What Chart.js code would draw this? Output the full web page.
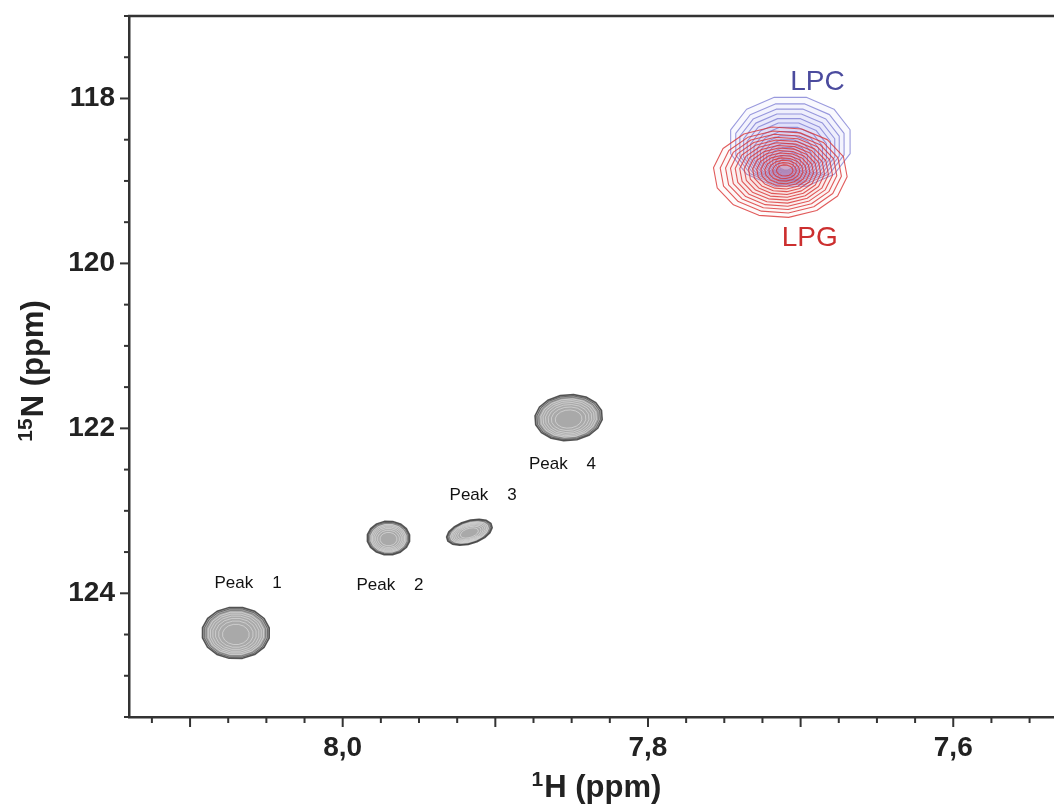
<!DOCTYPE html>
<html>
<head>
<meta charset="utf-8">
<script src="https://cdn.jsdelivr.net/npm/chart.js@4.4.1/dist/chart.umd.min.js"></script>
<style>
  html, body { margin: 0; padding: 0; background: #fff; }
  #wrap { width: 1054px; height: 807px; }
</style>
</head>
<body>
<div id="wrap"><canvas id="nmrChart" width="1054" height="807"></canvas></div>
<script>
var peakNames = ['Peak 1', 'Peak 2', 'Peak 3', 'Peak 4'];
var peakH = [8.070, 7.970, 7.917, 7.852];
var peakN = [124.48, 123.33, 123.26, 121.87];
var peakWidthH = [0.0223, 0.0141, 0.0155, 0.0223];
var peakWidthN = [0.315, 0.206, 0.14, 0.28];

var lipidNames = ['LPC', 'LPG'];
var lipidH = [7.710, 7.710];
var lipidN = [118.84, 118.87];
var lipidWidthH = [0.0405, 0.044];
var lipidWidthN = [0.558, 0.552];
var lipidSkewH = [-0.0033, 0.0033];
var lipidSkewN = [-0.315, 0.024];

// etiquetas de los ejes
var xLabelValues = [8.0, 7.8, 7.6];
var xTickLabels = ['8,0', '7,8', '7,6'];
var yLabelValues = [118, 120, 122, 124];
var yTickLabels = ['118', '120', '122', '124'];
var xTitle = ['1', 'H (ppm)'];
var yTitle = ['15', 'N (ppm)'];

var FONT = "'Liberation Sans', Arial, sans-serif";
var AXIS = '#333333';

function near(a, b) { return Math.abs(a - b) < 1e-6; }

// estilo de dibujo de cada grupo de contornos
var peakStyle = { rings: 9, rot: [0, 0, -0.3, -0.08] };
var lipidStyle = [
    { rings: 15, color: 'rgba(120,120,210,0.75)', fill: 'rgba(160,160,230,0.06)', text: '#4b4b9e', sides: 12, turn: 0.26 },
    { rings: 15, color: 'rgba(218,50,50,0.8)', fill: 'rgba(235,120,120,0.03)', text: '#cc2f2f', sides: 14, turn: 0.1 }
];
var labelAt = {
    peaks: [[8.062, 123.875], [7.969, 123.90], [7.908, 122.81], [7.856, 122.44]],
    lipids: [[7.689, 117.80], [7.694, 119.69]]
};

function polygon(ctx, cx, cy, rx, ry, rot, sides, turn) {
    rx = Math.max(rx, 0.6);
    ry = Math.max(ry, 0.6);
    var c = Math.cos(rot), s = Math.sin(rot);
    ctx.beginPath();
    for (var i = 0; i <= sides; i++) {
        var a = turn + i / sides * Math.PI * 2;
        var px = Math.cos(a) * rx, py = Math.sin(a) * ry;
        var X = cx + px * c - py * s, Y = cy + px * s + py * c;
        if (i === 0) ctx.moveTo(X, Y); else ctx.lineTo(X, Y);
    }
    ctx.closePath();
}

// plugin para dibujar los contornos de los picos
var contourPlugin = {
    id: 'contours',
    afterDatasetsDraw: function(chart) {
        var ctx = chart.ctx;
        var xs = chart.scales.x, ys = chart.scales.y;
        var area = chart.chartArea;
        ctx.save();
        ctx.beginPath();
        ctx.rect(area.left, area.top, area.right - area.left, area.bottom - area.top);
        ctx.clip();
        ctx.lineJoin = 'round';

        // picos grises
        var meta = chart.getDatasetMeta(0);
        meta.data.forEach(function(el, j) {
            var rx = Math.abs(xs.getPixelForValue(peakH[j] + peakWidthH[j]) - el.x);
            var ry = Math.abs(ys.getPixelForValue(peakN[j] + peakWidthN[j]) - el.y);
            var rot = peakStyle.rot[j];
            polygon(ctx, el.x, el.y, rx, ry, rot, 16, 0.2);
            ctx.fillStyle = '#a9a9a9';
            ctx.fill();
            for (var k = 0; k < peakStyle.rings; k++) {
                var s = Math.sqrt(1 - k / peakStyle.rings * 0.95);
                polygon(ctx, el.x, el.y + ry * 0.1 * (1 - s), rx * s, ry * s, rot, 16, 0.2);
                if (k < 3) {
                    ctx.strokeStyle = 'rgba(60,60,60,' + (0.85 - k * 0.25) + ')';
                    ctx.lineWidth = k === 0 ? 1.5 : 1;
                } else {
                    ctx.strokeStyle = 'rgba(240,240,240,0.55)';
                    ctx.lineWidth = 0.9;
                }
                ctx.stroke();
            }
        });

        // LPC y LPG
        [1, 2].forEach(function(di, i) {
            var el = chart.getDatasetMeta(di).data[0];
            var st = lipidStyle[i];
            var rx = Math.abs(xs.getPixelForValue(lipidH[i] + lipidWidthH[i]) - el.x);
            var ry = Math.abs(ys.getPixelForValue(lipidN[i] + lipidWidthN[i]) - el.y);
            var sx = xs.getPixelForValue(lipidH[i] + lipidSkewH[i]) - el.x;
            var sy = ys.getPixelForValue(lipidN[i] + lipidSkewN[i]) - el.y;
            ctx.strokeStyle = st.color;
            ctx.fillStyle = st.fill;
            ctx.lineWidth = 1.1;
            for (var k = 0; k < st.rings; k++) {
                var s = 1 - 0.93 * Math.pow(k / st.rings, 0.85);
                polygon(ctx, el.x + sx * s, el.y + sy * s, rx * s, ry * s, 0, st.sides, st.turn);
                ctx.fill();
                ctx.stroke();
            }
        });
        ctx.restore();

        // etiquetas
        ctx.save();
        ctx.textAlign = 'center';
        ctx.textBaseline = 'middle';
        ctx.fillStyle = '#111';
        ctx.font = '17px ' + FONT;
        peakNames.forEach(function(name, j) {
            var p = labelAt.peaks[j];
            ctx.fillText(name.replace(' ', '    '), xs.getPixelForValue(p[0]), ys.getPixelForValue(p[1]));
        });
        ctx.font = '28px ' + FONT;
        lipidNames.forEach(function(name, i) {
            var p = labelAt.lipids[i];
            ctx.fillStyle = lipidStyle[i].text;
            ctx.fillText(name, xs.getPixelForValue(p[0]), ys.getPixelForValue(p[1]));
        });
        ctx.restore();
    }
};

// título con superíndice
function drawTitle(ctx, parts, size, cx, cy, rot) {
    ctx.save();
    ctx.translate(cx, cy);
    ctx.rotate(rot);
    ctx.fillStyle = '#222';
    ctx.textBaseline = 'alphabetic';
    ctx.textAlign = 'left';
    var supFont = 'bold ' + Math.round(size * 0.68) + 'px ' + FONT;
    var mainFont = 'bold ' + size + 'px ' + FONT;
    ctx.font = supFont;
    var w1 = ctx.measureText(parts[0]).width;
    ctx.font = mainFont;
    var w2 = ctx.measureText(parts[1]).width;
    var x0 = -(w1 + w2 + 1) / 2;
    var base = size * 0.36;
    ctx.font = supFont;
    ctx.fillText(parts[0], x0, base - size * 0.36);
    ctx.font = mainFont;
    ctx.fillText(parts[1], x0 + w1 + 1, base);
    ctx.restore();
}

// marcas de los ejes, borde superior y títulos
var tickPlugin = {
    id: 'tickMarks',
    afterDraw: function(chart) {
        var ctx = chart.ctx;
        var xs = chart.scales.x, ys = chart.scales.y;
        var area = chart.chartArea;
        ctx.save();
        ctx.strokeStyle = AXIS;
        ctx.lineWidth = 2;
        xs.ticks.forEach(function(t) {
            var px = xs.getPixelForValue(t.value);
            var major = near(t.value * 10, Math.round(t.value * 10));
            ctx.beginPath();
            ctx.moveTo(px, area.bottom);
            ctx.lineTo(px, area.bottom + (major ? 10 : 6));
            ctx.stroke();
        });
        ys.ticks.forEach(function(t) {
            var py = ys.getPixelForValue(t.value);
            var major = yLabelValues.some(function(v) { return near(v, t.value); });
            ctx.beginPath();
            ctx.moveTo(area.left, py);
            ctx.lineTo(area.left - (major ? 9 : 5), py);
            ctx.stroke();
        });
        ctx.lineWidth = 2.5;
        ctx.beginPath();
        ctx.moveTo(area.left - 1, area.top);
        ctx.lineTo(area.right, area.top);
        ctx.stroke();
        ctx.restore();

        drawTitle(ctx, xTitle, 31, (area.left + area.right) / 2 + 5, 786, 0);
        drawTitle(ctx, yTitle, 31, 32, 371, -Math.PI / 2);
    }
};

var ctx = document.getElementById('nmrChart').getContext('2d');
var chart = new Chart(ctx, {
    type: 'scatter',
    data: {
        datasets: [{
            label: 'Peaks',
            data: peakH.map(function(h, i) { return { x: h, y: peakN[i] }; }),
            pointRadius: 0
        }, {
            label: lipidNames[0],
            data: [{ x: lipidH[0], y: lipidN[0] }],
            pointRadius: 0
        }, {
            label: lipidNames[1],
            data: [{ x: lipidH[1], y: lipidN[1] }],
            pointRadius: 0
        }]
    },
    options: {
        responsive: false,
        animation: false,
        devicePixelRatio: 1,
        layout: { padding: { top: 16, left: 0, right: 0, bottom: 0 } },
        plugins: {
            legend: { display: false },
            tooltip: { enabled: false }
        },
        scales: {
            x: {
                type: 'linear',
                position: 'bottom',
                reverse: true,
                min: 7.534,
                max: 8.140,
                afterFit: function(scale) {
                    scale.height = 90;
                    scale.paddingLeft = 0;
                    scale.paddingRight = 0;
                },
                grid: { display: false, drawTicks: false },
                border: { display: true, color: AXIS, width: 2.5 },
                ticks: {
                    stepSize: 0.025,
                    includeBounds: false,
                    autoSkip: false,
                    maxRotation: 0,
                    padding: 14,
                    color: '#222',
                    font: { family: FONT, size: 28, weight: 'bold' },
                    callback: function(v) {
                        for (var i = 0; i < xLabelValues.length; i++) {
                            if (near(v, xLabelValues[i])) return xTickLabels[i];
                        }
                        return '';
                    }
                }
            },
            y: {
                type: 'linear',
                position: 'left',
                reverse: true,
                min: 117,
                max: 125.5,
                afterFit: function(scale) {
                    scale.width = 129;
                    scale.paddingTop = 0;
                    scale.paddingBottom = 0;
                },
                grid: { display: false, drawTicks: false },
                border: { display: true, color: AXIS, width: 2.5 },
                ticks: {
                    stepSize: 0.5,
                    includeBounds: false,
                    autoSkip: false,
                    padding: 14,
                    color: '#222',
                    font: { family: FONT, size: 28, weight: 'bold' },
                    callback: function(v) {
                        for (var i = 0; i < yLabelValues.length; i++) {
                            if (near(v, yLabelValues[i])) return yTickLabels[i];
                        }
                        return '';
                    }
                }
            }
        }
    },
    plugins: [contourPlugin, tickPlugin]
});
</script>
</body>
</html>
